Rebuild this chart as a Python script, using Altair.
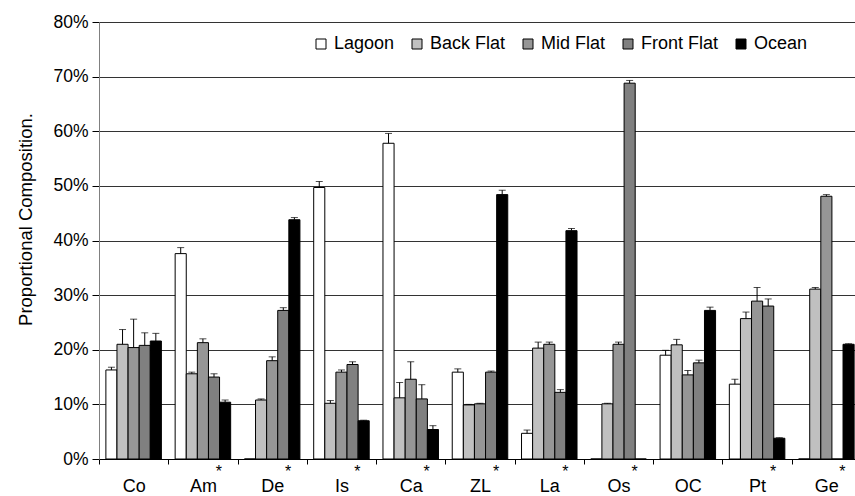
import altair as alt
import pandas as pd

categories = ["Co", "Am", "De", "Is", "Ca", "ZL", "La", "Os", "OC", "Pt", "Ge"]
significant = [False, True, True, True, True, True, True, True, False, True, True]
habitats = ["Lagoon", "Back Flat", "Mid Flat", "Front Flat", "Ocean"]
fills = ["#FFFFFF", "#C0C0C0", "#969696", "#808080", "#000000"]

# mean proportional composition (%) per category, one list per habitat
lagoon = [16.3, 37.6, 0.0, 49.7, 57.8, 15.9, 4.7, 0.0, 19.0, 13.7, 0.0]
back_flat = [21.0, 15.6, 10.8, 10.2, 11.2, 9.9, 20.3, 10.1, 20.9, 25.7, 31.1]
mid_flat = [20.4, 21.3, 18.0, 15.9, 14.6, 10.1, 21.0, 21.0, 15.4, 28.9, 48.1]
front_flat = [20.8, 15.0, 27.2, 17.3, 11.0, 15.9, 12.2, 68.8, 17.6, 28.0, 0.0]
ocean = [21.6, 10.4, 43.8, 7.0, 5.4, 48.4, 41.8, 0.0, 27.2, 3.8, 21.0]

# standard errors (%)
lagoon_se = [0.5, 1.1, 0.0, 1.1, 1.8, 0.6, 0.6, 0.0, 0.9, 0.9, 0.0]
back_flat_se = [2.7, 0.3, 0.2, 0.5, 2.8, 0.1, 1.1, 0.1, 1.0, 1.2, 0.3]
mid_flat_se = [5.2, 0.7, 0.7, 0.4, 3.2, 0.1, 0.4, 0.4, 0.8, 2.5, 0.3]
front_flat_se = [2.3, 0.6, 0.5, 0.5, 2.6, 0.2, 0.5, 0.5, 0.5, 1.3, 0.0]
ocean_se = [1.4, 0.4, 0.4, 0.1, 0.7, 0.8, 0.4, 0.0, 0.6, 0.1, 0.1]

series = [lagoon, back_flat, mid_flat, front_flat, ocean]
errors = [lagoon_se, back_flat_se, mid_flat_se, front_flat_se, ocean_se]

rows = []
for hab, vals, errs in zip(habitats, series, errors):
    for cat, v, e in zip(categories, vals, errs):
        rows.append({"category": cat, "habitat": hab,
                     "value": v / 100.0, "upper": (v + e) / 100.0})
df = pd.DataFrame(rows)
df_err = df[df["value"] > 0]
df_sig = pd.DataFrame({"category": [c for c, s in zip(categories, significant) if s]})

FONT = "Liberation Sans"

x_enc = alt.X(
    "category:N",
    sort=categories,
    scale=alt.Scale(domain=categories, range=[0, 762], paddingInner=0, paddingOuter=0),
    axis=alt.Axis(
        title=None, labelAngle=0, labelFontSize=18, labelColor="black",
        labelPadding=13, tickBand="extent", tickSize=5, tickColor="black",
        domainColor="black", grid=False,
    ),
)
off_enc = alt.XOffset(
    "habitat:N", sort=habitats,
    scale=alt.Scale(domain=habitats, paddingInner=0, paddingOuter=0.62),
)
y_enc = alt.Y(
    "value:Q",
    scale=alt.Scale(domain=[0, 0.8], nice=False),
    axis=alt.Axis(
        title="Proportional  Composition.", format=".0%",
        values=[0, 0.1, 0.2, 0.3, 0.4, 0.5, 0.6, 0.7, 0.8],
        labelFontSize=17.5, labelColor="black", labelPadding=4,
        tickSize=7, tickColor="black", domainColor="#808080",
        grid=True, gridColor="#333333", gridWidth=1,
        titleFontSize=18.5, titleFontWeight="normal", titleColor="black",
        titleAngle=270, titleAlign="center", titleBaseline="middle",
        titleX=-74, titleY=197,
    ),
)

bars = alt.Chart(df).mark_bar(stroke="black", strokeWidth=1).encode(
    x=x_enc,
    xOffset=off_enc,
    y=y_enc,
    fill=alt.Fill(
        "habitat:N", sort=habitats,
        scale=alt.Scale(domain=habitats, range=fills),
        legend=alt.Legend(
            title=None, orient="none", direction="horizontal",
            legendX=213, legendY=13, symbolType="square", symbolSize=100,
            symbolStrokeColor="black", symbolStrokeWidth=1,
            labelFontSize=18, labelColor="black", labelOffset=4,
            columnPadding=13, padding=0,
        ),
    ),
)

err_line = alt.Chart(df_err).mark_rule(color="black", strokeWidth=1).encode(
    x=alt.X("category:N", sort=categories),
    xOffset=alt.XOffset("habitat:N", sort=habitats),
    y="value:Q",
    y2="upper:Q",
)

err_cap = alt.Chart(df_err).mark_tick(color="black", thickness=1, size=7).encode(
    x=alt.X("category:N", sort=categories),
    xOffset=alt.XOffset("habitat:N", sort=habitats),
    y="upper:Q",
)

stars = alt.Chart(df_sig).mark_text(
    text="*", fontSize=16, dx=16, dy=5, baseline="top", color="black"
).encode(
    x=alt.X("category:N", sort=categories),
    y=alt.datum(0),
)

chart = (
    alt.layer(bars, err_line, err_cap, stars)
    .properties(
        width=756, height=437,
        autosize=alt.AutoSizeParams(type="none"),
        padding={"left": 99, "top": 22, "right": 0, "bottom": 37},
    )
    .configure(font=FONT)
    .configure_view(stroke=None)
)

chart.save("out.html", embed_options={"renderer": "svg", "actions": False})
